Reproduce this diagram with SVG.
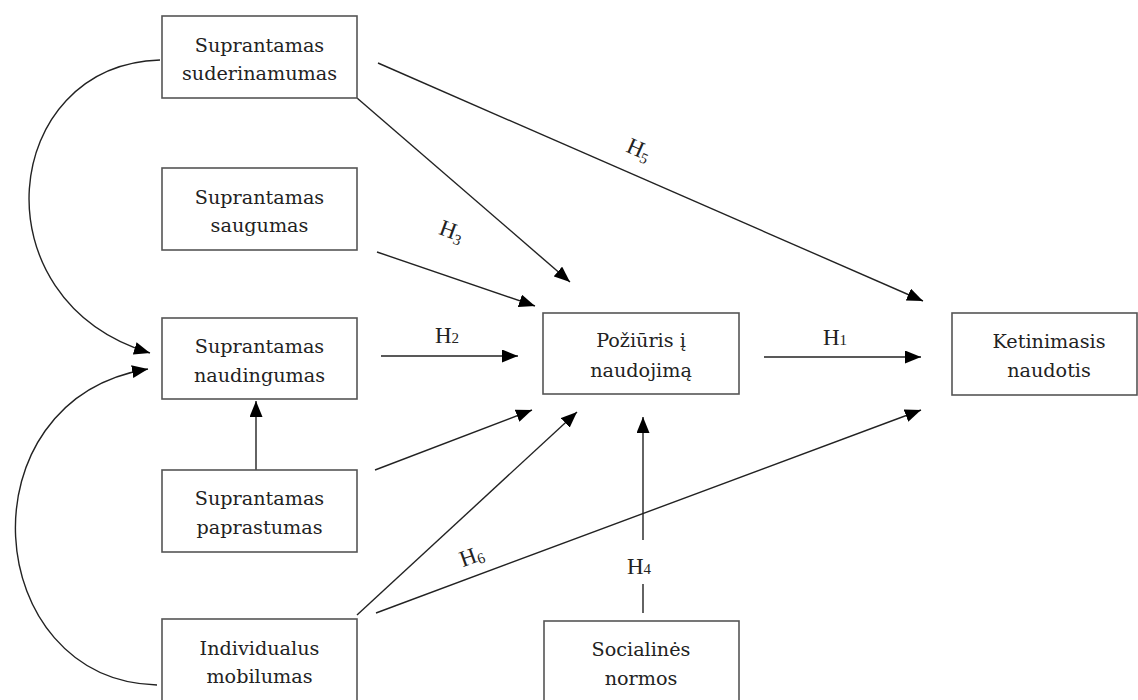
<svg xmlns="http://www.w3.org/2000/svg" width="1138" height="700" viewBox="0 0 1138 700">
<defs>
<marker id="ah" markerUnits="userSpaceOnUse" markerWidth="17" markerHeight="13" viewBox="0 0 17 13" refX="16" refY="6.5" orient="auto">
<path d="M0,0 L16,6.5 L0,13 z" fill="#000"/>
</marker>
<style>
.box{fill:#fff;stroke:#555;stroke-width:1.6}
.t{font-family:"DejaVu Serif","Liberation Serif",serif;font-size:19.2px;fill:#222;text-anchor:middle}
.c{fill:none;stroke:#222;stroke-width:1.4}
.a{marker-end:url(#ah)}
.h{font-family:"Liberation Serif","DejaVu Serif",serif;font-size:23px;fill:#222;text-anchor:middle}
.s{font-size:15px}
</style>
</defs>
<rect width="1138" height="700" fill="#fff"/>
<g id="connectors">
<path class="c a" d="M160,60 C0,65 -25,300 150,353"/>
<path class="c a" d="M157,685 C-20,680 -40,400 148,369"/>
<line class="c a" x1="256" y1="470" x2="256" y2="401"/>
<line class="c a" x1="357" y1="98" x2="570" y2="282"/>
<line class="c a" x1="378" y1="63" x2="923" y2="301"/>
<line class="c a" x1="377" y1="252" x2="535" y2="306"/>
<line class="c a" x1="381" y1="356" x2="518" y2="356"/>
<line class="c a" x1="375" y1="470" x2="532" y2="410"/>
<line class="c a" x1="357" y1="615" x2="577" y2="412"/>
<line class="c a" x1="376" y1="613" x2="921" y2="410"/>
<line class="c" x1="643" y1="613" x2="643" y2="584"/>
<line class="c a" x1="643" y1="540" x2="643" y2="417"/>
<line class="c a" x1="764" y1="357" x2="921" y2="357"/>
<text class="h" transform="translate(636,156) rotate(23.6)">H<tspan class="s" dy="4">5</tspan></text>
<text class="h" transform="translate(449,238) rotate(20)">H<tspan class="s" dy="4">3</tspan></text>
<text class="h" transform="translate(474,563) rotate(-20)">H<tspan class="s" dy="3">6</tspan></text>
<text class="h" x="447" y="343">H<tspan class="s">2</tspan></text>
<text class="h" x="835" y="345">H<tspan class="s">1</tspan></text>
<text class="h" x="639" y="574">H<tspan class="s">4</tspan></text>
</g>
<g id="n-suderinamumas">
<rect class="box" x="162" y="16" width="195" height="82"/>
<text class="t" x="259.5" y="52">Suprantamas</text>
<text class="t" x="259.5" y="80">suderinamumas</text>
</g>
<g id="n-saugumas">
<rect class="box" x="162" y="168" width="195" height="82"/>
<text class="t" x="259.5" y="204">Suprantamas</text>
<text class="t" x="259.5" y="232">saugumas</text>
</g>
<g id="n-naudingumas">
<rect class="box" x="162" y="318" width="195" height="81"/>
<text class="t" x="259.5" y="353">Suprantamas</text>
<text class="t" x="259.5" y="382">naudingumas</text>
</g>
<g id="n-paprastumas">
<rect class="box" x="162" y="470" width="195" height="82"/>
<text class="t" x="259.5" y="505">Suprantamas</text>
<text class="t" x="259.5" y="534">paprastumas</text>
</g>
<g id="n-mobilumas">
<rect class="box" x="162" y="619" width="195" height="82"/>
<text class="t" x="259.5" y="655">Individualus</text>
<text class="t" x="259.5" y="683">mobilumas</text>
</g>
<g id="n-poziuris">
<rect class="box" x="543" y="313" width="196" height="81"/>
<text class="t" x="641" y="347">Požiūris į</text>
<text class="t" x="641" y="377">naudojimą</text>
</g>
<g id="n-ketinimasis">
<rect class="box" x="952" y="313" width="185" height="82"/>
<text class="t" x="1049" y="348">Ketinimasis</text>
<text class="t" x="1049" y="377">naudotis</text>
</g>
<g id="n-socialines">
<rect class="box" x="544" y="621" width="195" height="82"/>
<text class="t" x="641" y="656">Socialinės</text>
<text class="t" x="641" y="685">normos</text>
</g>
</svg>
